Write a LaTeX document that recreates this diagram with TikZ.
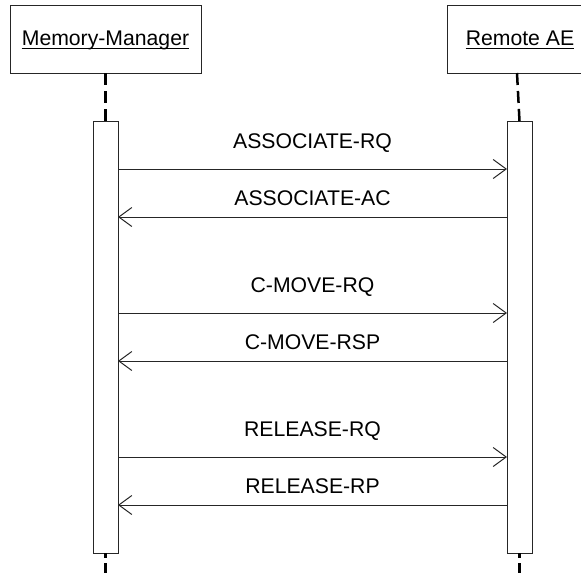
\documentclass[tikz,border=0pt]{standalone}
\usepackage{fontspec}
\setmainfont{Liberation Sans}
\usetikzlibrary{arrows.meta}
\begin{document}
\begin{tikzpicture}[x=1pt,y=-1pt,
  line join=miter,
  headbox/.style={draw=black!85,line width=1pt,fill=white,minimum width=#1,minimum height=68pt,inner sep=0pt,outer sep=0pt},
  actbar/.style={draw=black!85,line width=1pt,fill=white,minimum width=25pt,minimum height=432pt,inner sep=0pt,outer sep=0pt},
  lifeline/.style={draw=black,line width=2.5pt},
  msg/.style={draw=black!85,line width=1pt,-{Straight Barb[length=13pt,width=19pt,line width=1pt]}},
  lbl/.style={font=\fontsize{21.2}{24}\selectfont,inner sep=0pt,anchor=base},
  ttl/.style={font=\fontsize{21.2}{24}\selectfont,inner sep=0pt,anchor=base}
]
\path[use as bounding box] (0,0) rectangle (581,573);
\begin{scope}
\clip (0,0) rectangle (581,573);
% heads
\node[headbox=191pt] (mmhead) at (105.5,39) {};
\node[headbox=140pt] (aehead) at (517,39) {};
\node[ttl] (mmtxt) at (105.5,45) {Memory-Manager};
\node[ttl] (aetxt) at (520,45) {Remote AE};
\draw[line width=1pt] ([yshift=-3pt]mmtxt.base west) -- ([yshift=-3pt]mmtxt.base east);
\draw[line width=1pt] ([yshift=-3pt]aetxt.base west) -- ([yshift=-3pt]aetxt.base east);
% activation bars
\node[actbar] (mmbar) at (105.5,337) {};
\node[actbar] (aebar) at (519.5,337) {};
% lifelines
\coordinate (mmend) at (105.5,573);
\coordinate (aeend) at (519.5,573);
\draw[lifeline,dash pattern=on 12pt off 6pt] (mmhead.south) -- (mmbar.north);
\draw[lifeline,dash pattern=on 12pt off 6pt] (aehead.south |- mmhead.south) -- (aebar.north);
\draw[lifeline,dash pattern=on 5pt off 5pt on 12pt off 6pt] (mmbar.south) -- (mmend);
\draw[lifeline,dash pattern=on 5pt off 5pt on 12pt off 6pt] (aebar.south) -- (aeend);
\end{scope}
% message end points
\foreach \n/\y in {a/169,b/217,c/313,d/361,e/457,f/505}{
  \coordinate (L\n) at (mmbar.east |- 0,\y);
  \coordinate (R\n) at (aebar.west |- 0,\y);
}
\draw[msg] (La) -- (Ra) node[lbl,midway,yshift=21pt] (ta) {ASSOCIATE-RQ};
\draw[msg] (Rb) -- (Lb) node[lbl,midway,yshift=12pt] (tb) {ASSOCIATE-AC};
\draw[msg] (Lc) -- (Rc) node[lbl,midway,yshift=21pt] (tc) {C-MOVE-RQ};
\draw[msg] (Rd) -- (Ld) node[lbl,midway,yshift=12pt] (td) {C-MOVE-RSP};
\draw[msg] (Le) -- (Re) node[lbl,midway,yshift=21pt] (te) {RELEASE-RQ};
\draw[msg] (Rf) -- (Lf) node[lbl,midway,yshift=12pt] (tf) {RELEASE-RP};
\end{tikzpicture}
\end{document}
